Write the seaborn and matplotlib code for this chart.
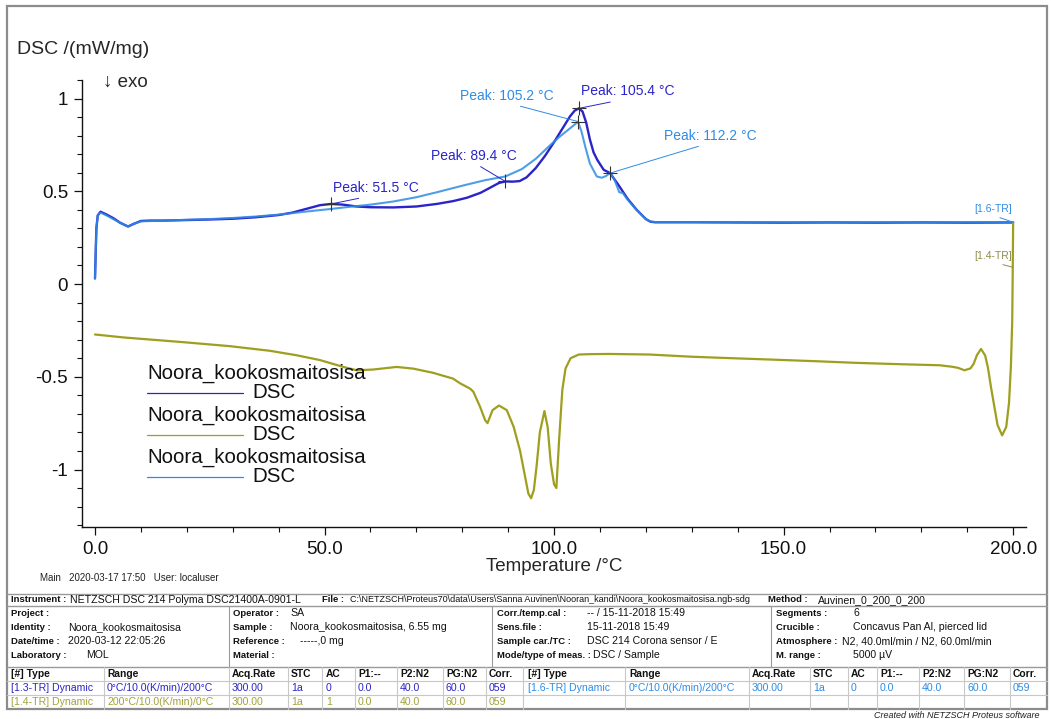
import numpy as np
import pandas as pd
import matplotlib
matplotlib.use("Agg")
import matplotlib.pyplot as plt
import matplotlib.ticker as mticker
from matplotlib.lines import Line2D
from matplotlib.patches import Rectangle
import seaborn as sns

# ---------------- DSC data (temperature in °C, DSC in mW/mg) ----------------
# segment 1.3-TR : heating 0 -> 200 °C
seg13_temp = [0.0, 0.3, 0.6, 1.2, 2.5, 4.0, 5.5, 7.2, 8.5, 10.0, 12.0, 15.0, 20.0, 25.0,
              30.0, 35.0, 40.0, 43.0, 46.0, 49.0, 51.5, 54.0, 57.0, 60.0, 65.0, 70.0,
              74.5, 78.0, 81.0, 84.0, 86.5, 88.0, 89.4, 91.0, 92.5, 94.0, 96.0, 98.0,
              100.0, 102.0, 103.5, 104.5, 105.4, 106.2, 107.0, 107.8, 108.6, 109.4,
              110.8, 112.2, 114.0, 116.0, 118.0, 120.0, 121.0, 122.0, 130.0, 140.0,
              150.0, 160.0, 170.0, 180.0, 190.0, 200.0]
seg13_dsc = [0.03, 0.30, 0.37, 0.39, 0.375, 0.355, 0.33, 0.31, 0.325, 0.340, 0.342, 0.342,
             0.345, 0.348, 0.352, 0.360, 0.372, 0.385, 0.405, 0.425, 0.432, 0.428, 0.418,
             0.414, 0.413, 0.418, 0.432, 0.447, 0.465, 0.492, 0.525, 0.545, 0.553, 0.552,
             0.555, 0.575, 0.625, 0.690, 0.765, 0.845, 0.905, 0.935, 0.947, 0.930, 0.870,
             0.780, 0.710, 0.670, 0.616, 0.598, 0.535, 0.460, 0.400, 0.350, 0.336, 0.333,
             0.333, 0.332, 0.331, 0.332, 0.331, 0.332, 0.331, 0.332]

# segment 1.6-TR : second heating 0 -> 200 °C
seg16_temp = [0.0, 0.3, 0.6, 1.2, 2.5, 4.0, 5.5, 7.2, 8.5, 10.0, 15.0, 20.0, 25.0, 30.0,
              35.0, 40.0, 45.0, 51.5, 55.0, 60.0, 65.0, 70.0, 74.5, 80.0, 85.0, 89.4,
              93.0, 96.0, 99.0, 101.0, 103.0, 104.5, 105.2, 106.0, 106.8, 107.8, 109.3,
              110.4, 111.3, 112.2, 113.2, 114.2, 115.0, 116.0, 118.0, 120.0, 121.0, 122.0,
              130.0, 140.0, 150.0, 160.0, 170.0, 180.0, 190.0, 200.0]
seg16_dsc = [0.03, 0.30, 0.37, 0.385, 0.37, 0.35, 0.33, 0.31, 0.325, 0.338, 0.342, 0.346,
             0.350, 0.356, 0.364, 0.374, 0.388, 0.405, 0.415, 0.428, 0.445, 0.468, 0.495,
             0.530, 0.560, 0.580, 0.620, 0.675, 0.745, 0.790, 0.830, 0.860, 0.876, 0.820,
             0.740, 0.650, 0.580, 0.573, 0.582, 0.598, 0.560, 0.495, 0.490, 0.455, 0.398,
             0.350, 0.337, 0.334, 0.334, 0.333, 0.333, 0.332, 0.333, 0.332, 0.333, 0.333]

# segment 1.4-TR : cooling 200 -> 0 °C (acquisition order)
seg14_temp = [200.0, 199.9, 199.8, 199.5, 199.1, 198.5, 197.6, 196.6, 195.9, 195.2, 194.5,
              193.9, 193.0, 192.1, 191.4, 190.7, 189.4, 188.0, 186.7, 184.0, 175.0, 165.8,
              156.9, 148.0, 138.8, 130.0, 120.7, 112.0, 108.0, 105.4, 103.6, 102.5, 101.8,
              101.1, 100.5, 100.0, 99.3, 98.6, 97.9, 96.9, 96.2, 95.6, 95.0, 94.4, 93.7,
              92.6, 91.2, 89.7, 88.0, 86.6, 85.5, 85.0, 83.9, 82.4, 81.7, 79.5, 78.0, 75.2,
              73.7, 69.3, 65.7, 60.6, 57.0, 54.1, 49.0, 43.9, 38.1, 29.4, 18.5, 6.2, 0.0]
seg14_dsc = [0.332, 0.05, -0.20, -0.45, -0.64, -0.77, -0.816, -0.76, -0.66, -0.56, -0.45,
             -0.385, -0.350, -0.384, -0.430, -0.455, -0.465, -0.452, -0.446, -0.438, -0.432,
             -0.425, -0.416, -0.408, -0.400, -0.392, -0.380, -0.377, -0.378, -0.380, -0.400,
             -0.455, -0.570, -0.840, -1.100, -1.080, -0.970, -0.770, -0.685, -0.800, -0.980,
             -1.110, -1.155, -1.130, -1.040, -0.900, -0.770, -0.680, -0.655, -0.680, -0.750,
             -0.735, -0.663, -0.580, -0.564, -0.535, -0.510, -0.490, -0.479, -0.456, -0.447,
             -0.461, -0.465, -0.447, -0.410, -0.384, -0.360, -0.335, -0.312, -0.288, -0.272]

# peak evaluations: segment, peak temperature, label anchor (°C, mW/mg)
peak_segment = ["1.3", "1.3", "1.6", "1.3", "1.6"]
peak_temp = [51.5, 89.4, 105.2, 105.4, 112.2]
peak_text_temp = [51.9, 73.2, 79.5, 105.9, 124.0]
peak_text_dsc = [0.519, 0.692, 1.016, 1.038, 0.800]

legend_name = "Noora_kookosmaitosisa"
legend_signal = "DSC"

x_major = [0, 50, 100, 150, 200]
y_major = [-1, -0.5, 0, 0.5, 1]

DARK = "#2b24c9"
LIGHT = "#2e8ce6"
OLIVE = "#9f9f1f"
OLIVE_TXT = "#a2a23c"

segments = {
    "1.3": (seg13_temp, seg13_dsc, DARK),
    "1.6": (seg16_temp, seg16_dsc, LIGHT),
    "1.4": (seg14_temp, seg14_dsc, OLIVE),
}

# ---------------- figure ----------------
sns.set_style("ticks")
plt.rcParams["font.family"] = ["Liberation Sans", "DejaVu Sans"]
plt.rcParams["axes.unicode_minus"] = False

W, H = 1051, 719
fig = plt.figure(figsize=(W / 100, H / 100), dpi=100)
fig.patch.set_facecolor("white")


def fx(px):
    return px / W


def fy(py):
    return 1 - py / H


ax = fig.add_axes([fx(82), fy(527), fx(944), 447 / H])
ax.set_facecolor("white")

# dark first, the second heating blended over it, cooling run last
for key, lw, alpha in [("1.3", 1.7, 1.0), ("1.6", 1.5, 0.85), ("1.4", 1.6, 1.0)]:
    t, d, c = segments[key]
    df = pd.DataFrame({"T": t, "DSC": d})
    sns.lineplot(data=df, x="T", y="DSC", ax=ax, color=c, lw=lw, alpha=alpha,
                 sort=False, estimator=None)

# peak markers and labels
for seg, pt, tx, ty in zip(peak_segment, peak_temp, peak_text_temp, peak_text_dsc):
    t, d, c = segments[seg]
    pv = d[t.index(pt)]
    ax.plot([pt], [pv], marker="+", ms=10, mew=0.8, color="#333333", ls="none",
            zorder=5)
    ax.annotate(f"Peak: {pt:.1f} °C", xy=(pt, pv), xytext=(tx, ty),
                ha="left", va="center", fontsize=10, color=c,
                arrowprops=dict(arrowstyle="-", color=c, lw=0.7, relpos=(0.5, 0.0),
                                shrinkA=1, shrinkB=0))

# segment end labels
end_16 = seg16_dsc[-1]
ax.annotate("[1.6-TR]", xy=(seg16_temp[-1], end_16), xytext=(195.6, 0.405),
            ha="center", va="center", fontsize=7.5, color=LIGHT,
            arrowprops=dict(arrowstyle="-", color=LIGHT, lw=0.7, relpos=(0.4, 0.0),
                            shrinkA=1, shrinkB=0))
ax.annotate("[1.4-TR]", xy=(seg14_temp[0], 0.09), xytext=(195.6, 0.151),
            ha="center", va="center", fontsize=7.5, color="#8c8c4a",
            arrowprops=dict(arrowstyle="-", color="#8c8c4a", lw=0.7, relpos=(0.4, 0.0),
                            shrinkA=1, shrinkB=0))

ax.set_xlim(-2.83, 202.8)
ax.set_ylim(-1.31, 1.10)
ax.xaxis.set_major_locator(mticker.FixedLocator(x_major))
ax.xaxis.set_minor_locator(mticker.MultipleLocator(10))
ax.yaxis.set_major_locator(mticker.FixedLocator(y_major))
ax.yaxis.set_minor_locator(mticker.MultipleLocator(0.1))
ax.xaxis.set_major_formatter(mticker.FormatStrFormatter("%.1f"))
ax.yaxis.set_major_formatter(mticker.FuncFormatter(lambda v, p: f"{v:g}"))
ax.tick_params(which="major", direction="out", length=6, width=0.9, labelsize=13.5,
               colors="#111111", pad=4)
ax.tick_params(which="minor", direction="out", length=3.5, width=0.8, colors="#111111")
for s in ["top", "right"]:
    ax.spines[s].set_visible(False)
for s in ["left", "bottom"]:
    ax.spines[s].set_linewidth(1.0)
    ax.spines[s].set_color("#111111")
ax.set_xlabel("Temperature /°C", fontsize=13.5, labelpad=0)
ax.set_ylabel("")

# legend block
leg_x0, leg_x1, leg_tx = 147, 243, 252
for i, col in enumerate([DARK, OLIVE, LIGHT]):
    y_name = 373 + 42 * i
    y_line = 393 + 42 * i
    fig.text(fx(leg_x0), fy(y_name), legend_name, fontsize=14.8, va="center",
             ha="left", color="#111111")
    fig.add_artist(Line2D([fx(leg_x0), fx(leg_x1)], [fy(y_line)] * 2, color=col,
                          lw=0.9, transform=fig.transFigure))
    fig.text(fx(leg_tx), fy(y_line), legend_signal, fontsize=14.8, va="center",
             ha="left", color="#111111")

fig.text(fx(17), fy(50), "DSC /(mW/mg)", fontsize=14, va="center", ha="left")
fig.text(fx(103), fy(82), "↓ exo", fontsize=13.5, va="center", ha="left")

# ---------------- measurement info table ----------------
fig.text(fx(40), fy(578), "Main   2020-03-17 17:50   User: localuser", fontsize=7,
         va="center", ha="left", color="#222222")

GRID = "#9a9a9a"
LBL_SIZE = 6.8
VAL_SIZE = 7.6


def hline(y, x0=7, x1=1047, lw=0.8, color=GRID):
    fig.add_artist(Line2D([fx(x0), fx(x1)], [fy(y)] * 2, color=color, lw=lw,
                          transform=fig.transFigure))


def vline(x, y0, y1, lw=0.8, color=GRID):
    fig.add_artist(Line2D([fx(x)] * 2, [fy(y0), fy(y1)], color=color, lw=lw,
                          transform=fig.transFigure))


def txt(x, y, s, bold=False, color="#111111", size=None, **kw):
    if size is None:
        size = LBL_SIZE if bold else VAL_SIZE
    fig.text(fx(x), fy(y), s, fontsize=size, va="center", ha="left", color=color,
             fontweight="bold" if bold else "normal", **kw)


instrument_row = [
    (11, "Instrument :", True, None), (70, "NETZSCH DSC 214 Polyma DSC21400A-0901-L", False, None),
    (322, "File :", True, None),
    (350, "C:\\NETZSCH\\Proteus70\\data\\Users\\Sanna Auvinen\\Nooran_kandi\\Noora_kookosmaitosisa.ngb-sdg", False, 6.5),
    (768, "Method :", True, None), (818, "Auvinen_0_200_0_200", False, None),
]
for x, s, b, sz in instrument_row:
    txt(x, 600, s, bold=b, size=sz)

info_labels = [
    ["Project :", "Identity :", "Date/time :", "Laboratory :"],
    ["Operator :", "Sample :", "Reference :", "Material :"],
    ["Corr./temp.cal :", "Sens.file :", "Sample car./TC :", "Mode/type of meas. :"],
    ["Segments :", "Crucible :", "Atmosphere :", "M. range :"],
]
info_values = [
    ["", "Noora_kookosmaitosisa", "2020-03-12 22:05:26", "MOL"],
    ["SA", "Noora_kookosmaitosisa, 6.55 mg", "-----,0 mg", ""],
    ["-- / 15-11-2018 15:49", "15-11-2018 15:49", "DSC 214 Corona sensor / E",
     "DSC / Sample"],
    ["6", "Concavus Pan Al, pierced lid", "N2, 40.0ml/min / N2, 60.0ml/min", "5000 µV"],
]
info_label_x = [11, 233, 497, 776]
info_value_x = [[68, 68, 68, 86], [290, 290, 300, 290], [587, 587, 587, 593],
                [853, 853, 842, 853]]
info_row_y = [613, 627, 641, 655]
for c in range(4):
    for r in range(4):
        txt(info_label_x[c], info_row_y[r], info_labels[c][r], bold=True)
        if info_values[c][r]:
            txt(info_value_x[c][r], info_row_y[r], info_values[c][r])

seg_header = ["[#] Type", "Range", "Acq.Rate", "STC", "AC", "P1:--", "P2:N2", "PG:N2",
              "Corr."]
seg_rows = [
    ["[1.3-TR] Dynamic", "0°C/10.0(K/min)/200°C", "300.00", "1a", "0", "0.0", "40.0",
     "60.0", "059"],
    ["[1.4-TR] Dynamic", "200°C/10.0(K/min)/0°C", "300.00", "1a", "1", "0.0", "40.0",
     "60.0", "059"],
    ["[1.6-TR] Dynamic", "0°C/10.0(K/min)/200°C", "300.00", "1a", "0", "0.0", "40.0",
     "60.0", "059"],
]
seg_colors = [DARK, OLIVE_TXT, LIGHT]
seg_col_x_left = [11, 107, 232, 291, 326, 358, 400, 446, 489]
seg_col_x_right = [528, 629, 752, 813, 851, 880, 922, 967, 1013]
for x, s in zip(seg_col_x_left, seg_header):
    txt(x, 674, s, bold=True, size=7.4)
for x, s in zip(seg_col_x_right, seg_header):
    txt(x, 674, s, bold=True, size=7.4)
for x, s in zip(seg_col_x_left, seg_rows[0]):
    txt(x, 688, s, color=seg_colors[0])
for x, s in zip(seg_col_x_left, seg_rows[1]):
    txt(x, 702, s, color=seg_colors[1])
for x, s in zip(seg_col_x_right, seg_rows[2]):
    txt(x, 688, s, color=seg_colors[2])

# table rules
hline(594, lw=1.0)
hline(606, lw=1.0)
hline(667, lw=1.0)
hline(681, color="#c8c8c8")
hline(695, color="#c8c8c8")
for x in [229, 492, 771]:
    vline(x, 606, 667)
for x in [104, 229, 288, 322, 355, 397, 443, 486, 523, 625, 749, 810, 848, 877, 919,
          964, 1010]:
    vline(x, 667, 709, color="#c8c8c8")

# outer frame
fig.add_artist(Rectangle((fx(7), fy(709)), fx(1040), (709 - 6) / H, fill=False,
                         ec="#8c8c8c", lw=1.6, transform=fig.transFigure))

fig.text(fx(1040), fy(715), "Created with NETZSCH Proteus software", fontsize=6.5,
         style="italic", ha="right", va="center", color="#222222")

fig.savefig("out.png", dpi=100, facecolor="white")
